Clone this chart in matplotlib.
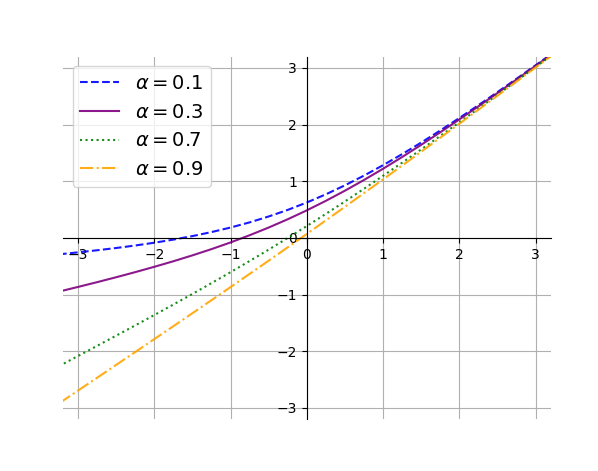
import matplotlib
matplotlib.use("Agg")
import matplotlib.pyplot as plt

# x positions where curve values were read
x_vals = [-3.25, -3.0, -2.75, -2.5, -2.25, -2.0, -1.75, -1.5, -1.25, -1.0, -0.75, -0.5, -0.25,
          0.0, 0.25, 0.5, 0.75, 1.0, 1.25, 1.5, 1.75, 2.0, 2.25, 2.5, 2.75, 3.0, 3.25]

alpha_01 = [-0.291, -0.256, -0.219, -0.179, -0.135, -0.086, -0.031, 0.031, 0.102, 0.182, 0.273, 0.377, 0.493,
            0.624, 0.768, 0.927, 1.098, 1.282, 1.477, 1.681, 1.894, 2.114, 2.340, 2.571, 2.806, 3.044, 3.284]
alpha_03 = [-0.948, -0.866, -0.782, -0.695, -0.605, -0.511, -0.413, -0.309, -0.199, -0.081, 0.046, 0.182, 0.328,
            0.485, 0.653, 0.832, 1.021, 1.219, 1.426, 1.641, 1.862, 2.089, 2.320, 2.555, 2.793, 3.034, 3.277]
alpha_07 = [-2.264, -2.085, -1.906, -1.726, -1.545, -1.362, -1.177, -0.990, -0.799, -0.606, -0.409, -0.208, -0.002,
            0.208, 0.423, 0.642, 0.866, 1.094, 1.326, 1.560, 1.798, 2.038, 2.280, 2.524, 2.769, 3.015, 3.261]
alpha_09 = [-2.921, -2.695, -2.469, -2.242, -2.015, -1.787, -1.559, -1.330, -1.100, -0.869, -0.636, -0.403, -0.167,
            0.069, 0.308, 0.547, 0.789, 1.031, 1.275, 1.520, 1.766, 2.013, 2.260, 2.508, 2.756, 3.005, 3.254]

labels = [r"$\alpha=0.1$", r"$\alpha=0.3$", r"$\alpha=0.7$", r"$\alpha=0.9$"]
series = [alpha_01, alpha_03, alpha_07, alpha_09]
colors = ["blue", "purple", "green", "orange"]
styles = ["--", "-", ":", "-."]

xticks = [-3, -2, -1, 0, 1, 2, 3]
yticks = [-3, -2, -1, 0, 1, 2, 3]

fig = plt.figure(figsize=(5.98, 4.71), dpi=100)
ax = fig.add_axes([0.105, 0.110, 0.816, 0.770])

for ys, lab, c, ls in zip(series, labels, colors, styles):
    ax.plot(x_vals, ys, color=c, linestyle=ls, label=lab, alpha=0.9)

ax.set_xlim(-3.2, 3.2)
ax.set_ylim(-3.2, 3.2)
ax.set_xticks(xticks)
ax.set_yticks(yticks)
ax.spines["left"].set_position(("data", 0))
ax.spines["bottom"].set_position(("data", 0))
ax.spines["top"].set_visible(False)
ax.spines["right"].set_visible(False)
ax.grid(True)
ax.legend(loc="upper left", fontsize=14)

fig.savefig("out.png", dpi=100)
